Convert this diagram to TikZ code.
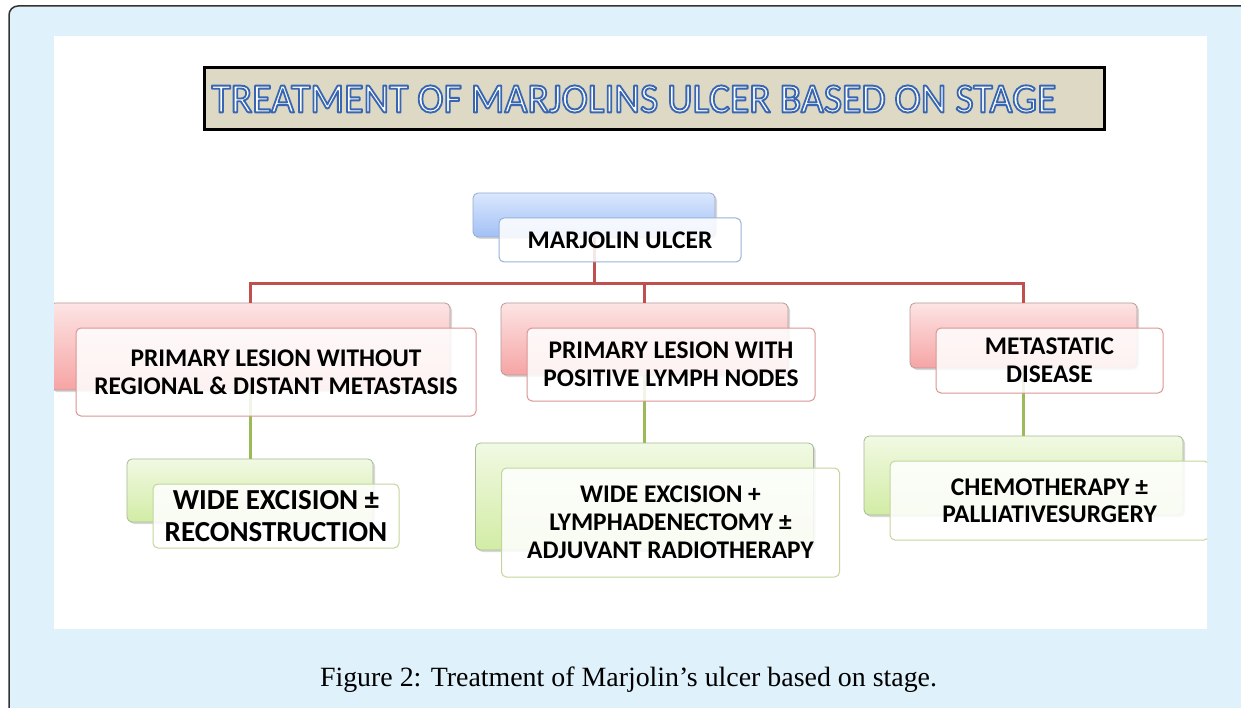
\documentclass[tikz,border=0pt]{standalone}
\usepackage{fontspec}
\usetikzlibrary{shadows}
\newfontfamily\carl{Carlito}
\newfontfamily\capfont{Liberation Serif}
\definecolor{bgblue}{HTML}{DFF1FB}
\definecolor{frameedge}{HTML}{333333}
\definecolor{titlefill}{HTML}{DDD9C4}
\definecolor{redline}{HTML}{C0504D}
\definecolor{greenline}{HTML}{9BBB59}
\definecolor{blueTop}{HTML}{DAE7FD}
\definecolor{blueBot}{HTML}{A2C0F6}
\definecolor{blueBack}{HTML}{9AAACB}
\definecolor{blueEdge}{HTML}{95B3D7}
\definecolor{redTop}{HTML}{FDE4E4}
\definecolor{redBot}{HTML}{F6A4A4}
\definecolor{redBack}{HTML}{B89A9A}
\definecolor{redEdge}{HTML}{D99694}
\definecolor{greenTop}{HTML}{F1F9E3}
\definecolor{greenBot}{HTML}{D2ECA5}
\definecolor{greenBack}{HTML}{A9B898}
\definecolor{greenEdge}{HTML}{C3D69B}
% white letters with a blue outline (PDF text render mode 2: fill + stroke)
\newcommand\outlinedtext[1]{{\color{white}\special{pdf:literal direct 0.22 0.40 0.70 RG 0.9 w 1 j 2 Tr}#1\special{pdf:literal direct 0 Tr}}}
\tikzset{
  backbox/.style={rounded corners=5pt, line width=0.8pt, inner sep=0pt,
    drop shadow={opacity=0.3, shadow xshift=2pt, shadow yshift=-2pt}},
  blueback/.style={backbox, top color=blueTop, bottom color=blueBot, draw=blueBack},
  redback/.style={backbox, top color=redTop, bottom color=redBot, draw=redBack},
  greenback/.style={backbox, top color=greenTop, bottom color=greenBot, draw=greenBack},
  frontbox/.style={rounded corners=5pt, fill=white, fill opacity=0.86, text opacity=1,
    draw=#1, line width=1pt, inner sep=0pt, align=center, text=black,
    font=\carl\bfseries\fontsize{25.4}{28}\selectfont},
  redconn/.style={draw=redline, line width=3pt},
  greenconn/.style={draw=greenline, line width=3pt},
}
\begin{document}
\begin{tikzpicture}[x=1pt,y=-1pt]
\useasboundingbox (0,0) rectangle (1241,708);
% outer frame and panel
\draw[rounded corners=9pt, fill=bgblue, draw=frameedge, line width=1.5pt] (9,6) rectangle (1270,740);
\fill[white] (54,36) rectangle (1207,629);
% title
\node[draw=black, line width=3pt, fill=titlefill, inner sep=0pt, minimum width=900pt, minimum height=62pt] (title) at (654,99)
  {\makebox[897pt][l]{\hspace{6pt}\resizebox{845pt}{27pt}{\carl\fontsize{20}{24}\selectfont\outlinedtext{TREATMENT OF MARJOLINS ULCER BASED ON STAGE}}}};
\begin{scope}
\clip (54,36) rectangle (1207,629);
% back boxes
\node[blueback, minimum width=242pt, minimum height=44pt] (topback) at (594,215) {};
\node[redback, minimum width=400pt, minimum height=87pt] (leftback) at (250,346.5) {};
\node[redback, minimum width=287pt, minimum height=72pt] (midback) at (644.5,339) {};
\node[redback, minimum width=227pt, minimum height=65pt] (rightback) at (1023.5,335.5) {};
\node[greenback, minimum width=246pt, minimum height=63pt] (leftgback) at (250,490.5) {};
\node[greenback, minimum width=338pt, minimum height=107pt] (midgback) at (644.5,496.5) {};
\node[greenback, minimum width=319pt, minimum height=79pt] (rightgback) at (1023.5,475.5) {};
% connectors
\draw[redconn] (topback.south) -- ++(0,46) coordinate (hub);
\draw[redconn] (hub) -| (leftback.north);
\draw[redconn] (hub) -| (midback.north);
\draw[redconn] (hub) -| (rightback.north);
\draw[greenconn] (leftback.south) -- (leftgback.north);
\draw[greenconn] (midback.south) -- (midgback.north);
\draw[greenconn] (rightback.south) -- (rightgback.north);
% front boxes
\node[frontbox=blueEdge, minimum width=242pt, minimum height=44pt] (top) at (620,240) {MARJOLIN ULCER};
\node[frontbox=redEdge, minimum width=400pt, minimum height=88pt] (left) at (276,372) {PRIMARY LESION WITHOUT\\REGIONAL \& DISTANT METASTASIS};
\node[frontbox=redEdge, minimum width=288pt, minimum height=73pt] (mid) at (671,364.5) {PRIMARY LESION WITH\\POSITIVE LYMPH NODES};
\node[frontbox=redEdge, minimum width=227pt, minimum height=65pt] (right) at (1049.5,360.5) {METASTATIC\\DISEASE};
\node[frontbox=greenEdge, minimum width=246pt, minimum height=64pt, font=\carl\bfseries\fontsize{29}{32}\selectfont] (leftg) at (276,516) {WIDE EXCISION ±\\RECONSTRUCTION};
\node[frontbox=greenEdge, minimum width=338pt, minimum height=109pt, font=\carl\bfseries\fontsize{25.4}{28}\selectfont] (midg) at (670.5,522.5) {WIDE EXCISION +\\LYMPHADENECTOMY ±\\ADJUVANT RADIOTHERAPY};
\node[frontbox=greenEdge, minimum width=319pt, minimum height=79pt, font=\carl\bfseries\fontsize{25.5}{27}\selectfont] (rightg) at (1049.5,500.5) {CHEMOTHERAPY ±\\PALLIATIVESURGERY};
\end{scope}
% caption
\node[anchor=base, inner sep=0pt] (caption) at (628.5,686)
  {\resizebox{617pt}{!}{\capfont\fontsize{25}{30}\selectfont Figure 2: Treatment of Marjolin’s ulcer based on stage.}};
\end{tikzpicture}
\end{document}
